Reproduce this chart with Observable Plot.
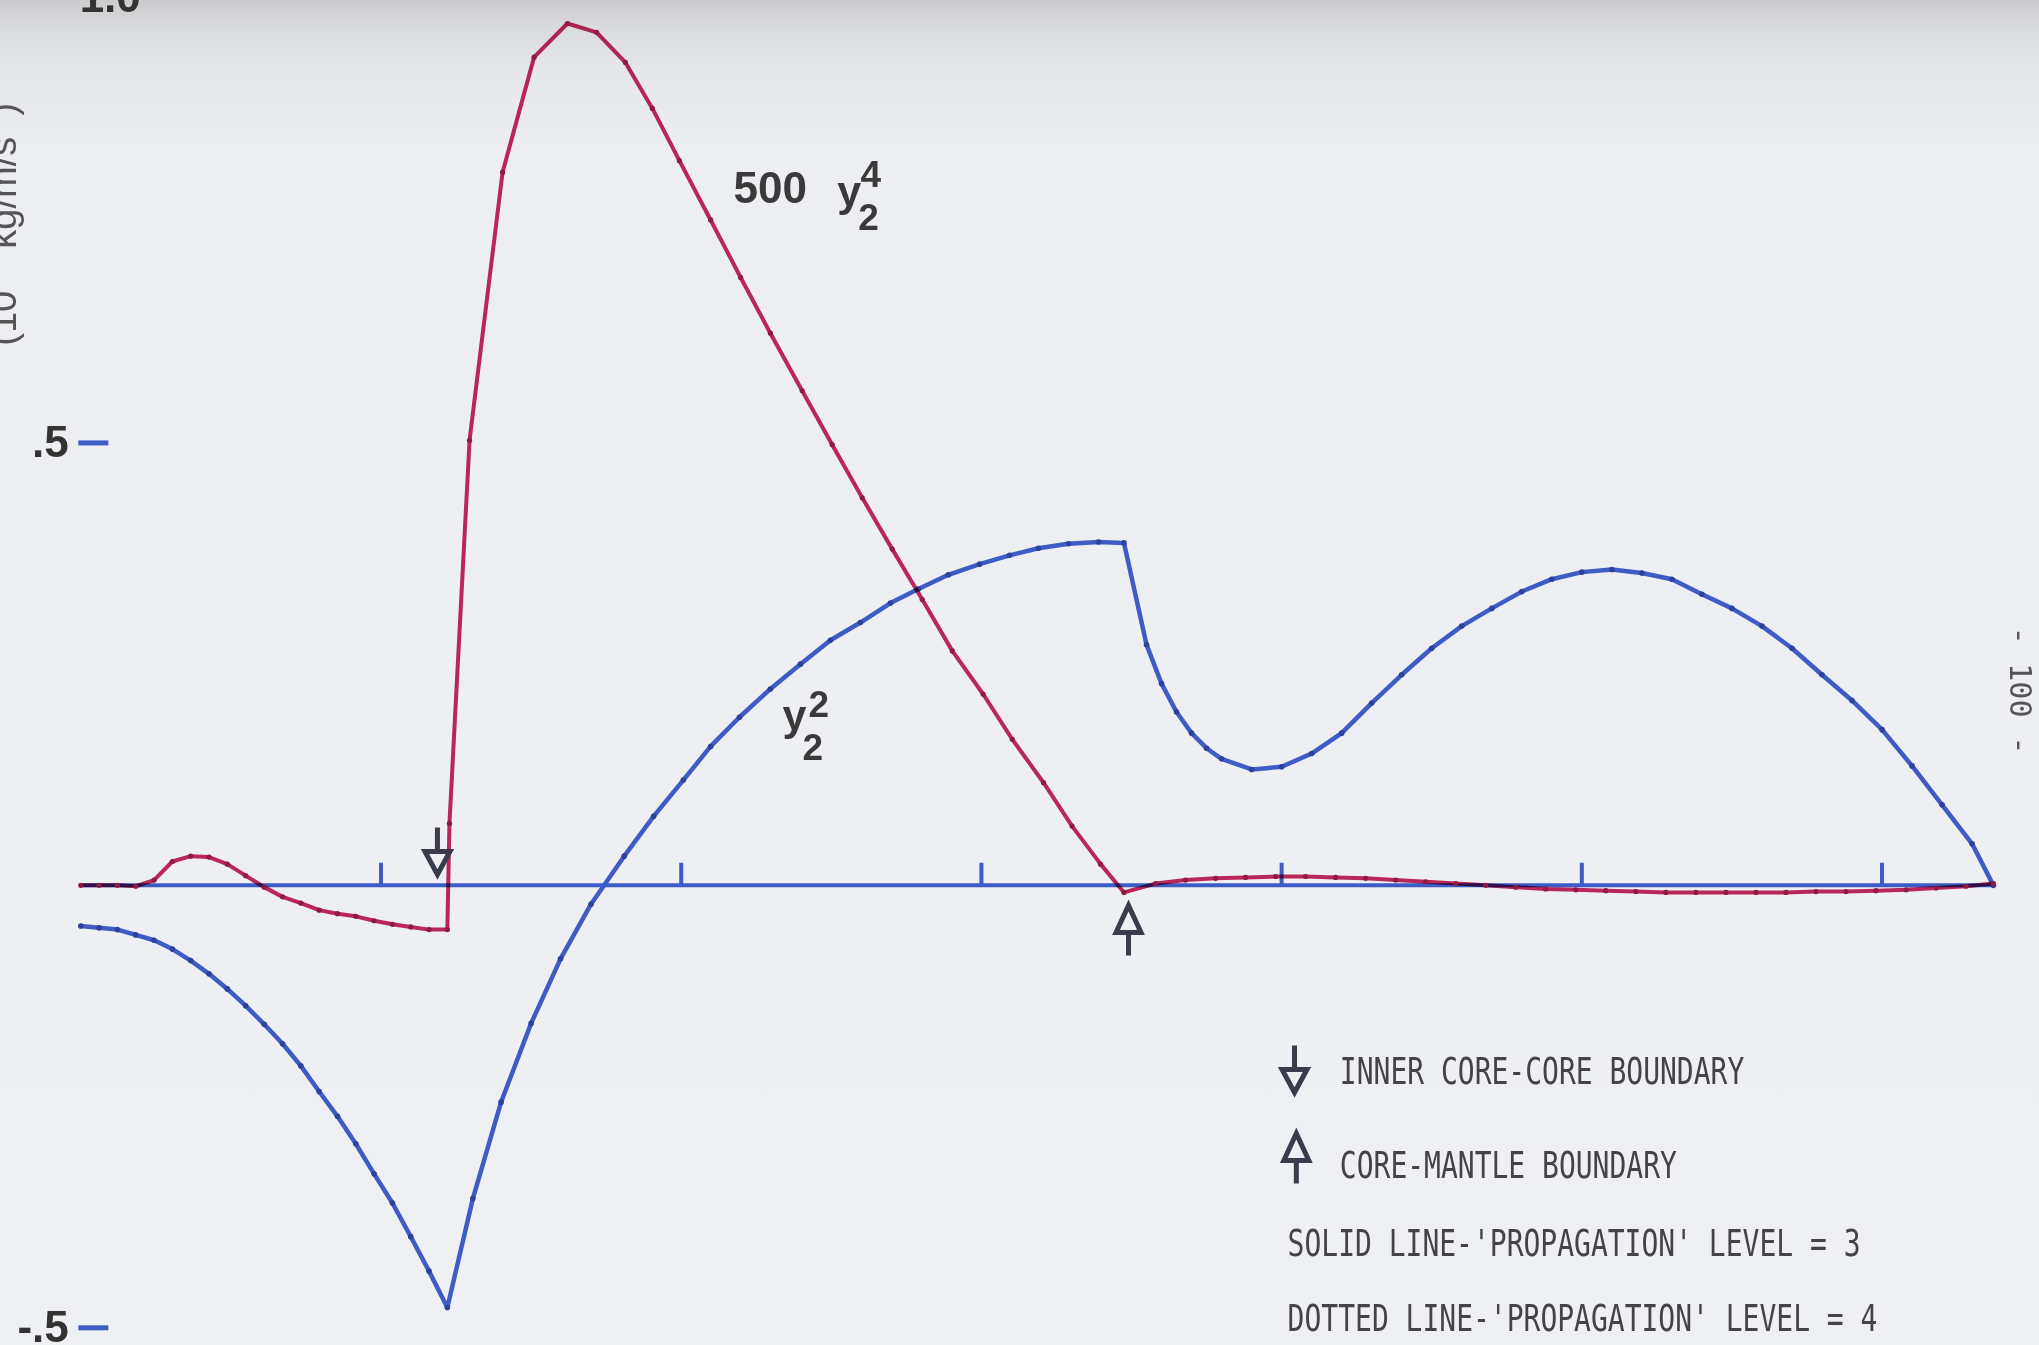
<!DOCTYPE html>
<html>
<head>
<meta charset="utf-8">
<script src="https://cdn.jsdelivr.net/npm/d3@7"></script>
<script src="https://cdn.jsdelivr.net/npm/@observablehq/plot@0.6"></script>
<style>
  html, body { margin: 0; padding: 0; }
  body {
    width: 2039px; height: 1345px; overflow: hidden;
    background: linear-gradient(#cbcbcd 0px, #dadbde 28px, #e6e7eb 70px, #eceef2 150px, #eef0f4 100%);
  }
  #chart svg { display: block; }
</style>
</head>
<body>
<div id="chart"></div>
<script>
// ---- data ----
// radius (km) and y2^2 (blue curve)
const blueRadiusKm = [0,61,122,183,244,305,366,427,488,549,611,672,733,794,855,916,977,1038,1099,1160,1221,
  1306,1400,1500,1598,1700,1810,1908,2007,2098,2194,2297,2397,2497,2597,2697,2790,2890,2994,3094,3190,3290,3390,3475,
  3550,3600,3650,3700,3750,3800,3900,4000,4100,4200,4300,4400,4500,4600,4700,4800,
  4900,5000,5100,5200,5300,5400,5500,5600,5700,5800,5900,6000,6100,6200,6300,6371];
const y22Values = [-0.046,-0.048,-0.050,-0.056,-0.062,-0.072,-0.085,-0.100,-0.117,-0.136,-0.157,-0.179,-0.204,-0.233,-0.261,-0.292,-0.326,-0.359,-0.397,-0.436,-0.477,
  -0.354,-0.245,-0.156,-0.083,-0.021,0.033,0.078,0.119,0.157,0.190,0.222,0.250,0.277,0.297,0.319,0.335,0.351,0.363,0.373,0.381,0.386,0.388,0.387,
  0.272,0.228,0.196,0.172,0.155,0.143,0.131,0.134,0.149,0.172,0.206,0.238,0.268,0.293,0.313,0.332,
  0.346,0.354,0.357,0.353,0.346,0.329,0.313,0.293,0.268,0.238,0.209,0.176,0.135,0.091,0.047,0.000];

// radius (km) and 500*y2^4 (red curve)
const redRadiusKm = [0,61,122,183,244,305,366,427,488,549,611,672,733,794,855,916,977,1038,1099,1160,1221,
  1228,1295,1405,1510,1621,1718,1814,1904,1994,2098,2198,2297,2403,2503,2603,2703,2803,2903,3006,3103,3207,3302,3397,3475,
  3580,3680,3780,3880,3980,4080,4180,4280,4380,4480,4580,4680,4780,4880,4980,5080,5180,5280,
  5380,5480,5580,5680,5780,5880,5980,6080,6180,6280,6371];
const y24x500Values = [0,0,0,-0.001,0.006,0.027,0.033,0.032,0.024,0.011,-0.002,-0.013,-0.020,-0.028,-0.032,-0.035,-0.040,-0.044,-0.047,-0.050,-0.050,
  0.070,0.503,0.806,0.936,0.974,0.964,0.930,0.878,0.819,0.752,0.687,0.624,0.559,0.498,0.438,0.380,0.323,0.265,0.216,0.165,0.116,0.067,0.024,-0.008,
  0.002,0.006,0.008,0.009,0.010,0.010,0.009,0.008,0.006,0.004,0.002,0.000,-0.002,-0.004,-0.005,-0.006,-0.007,-0.008,
  -0.008,-0.008,-0.008,-0.008,-0.007,-0.007,-0.006,-0.005,-0.003,-0.001,0.002];

const radialTicksKm = [1000, 2000, 3000, 4000, 5000, 6000];
const yTickValues = [0.5, -0.5];
const yTickLabels = [".5", "-.5"];
const topTickLabel = "1.0";
const yAxisTitle = "(10\u00A0\u00A0\u00A0\u00A0kg/m/s\u00A0\u00A0)";
const pageNumber = "- 100 -";
const legendLines = [
  "INNER CORE-CORE BOUNDARY",
  "CORE-MANTLE BOUNDARY",
  "SOLID LINE-'PROPAGATION' LEVEL = 3",
  "DOTTED LINE-'PROPAGATION' LEVEL = 4"
];

// ---- styling ----
const BLUE = "#3d5cc6";
const BLUE_DOT = "#2c429c";
const RED = "#c8285c";
const RED_DOT = "#8f1a42";
const INK = "#3a3a3a";
const ARROW_INK = "#3b3b4c";

const blue = blueRadiusKm.map((r, i) => ({r, v: y22Values[i]}));
const red = redRadiusKm.map((r, i) => ({r, v: y24x500Values[i]}));

// arrow glyphs (drawn as custom dot symbols)
const downArrow = {draw(c) {
  c.moveTo(0, 0); c.lineTo(0, 24);
  c.moveTo(-12.5, 24); c.lineTo(12.5, 24); c.lineTo(0, 47); c.closePath();
}};
const upArrow = {draw(c) {
  c.moveTo(0, 0); c.lineTo(0, -23);
  c.moveTo(-12.5, -23); c.lineTo(12.5, -23); c.lineTo(0, -50); c.closePath();
}};

const sansBold = {fontFamily: "Liberation Sans, Arial, sans-serif", fontWeight: "bold", fill: INK};

const chart = Plot.plot({
  width: 2039,
  height: 1345,
  marginTop: 0, marginBottom: 0, marginLeft: 0, marginRight: 0,
  style: {background: "none", overflow: "visible"},
  x: {domain: [0, 6371], range: [80.3, 1992.9], axis: null},
  y: {domain: [-0.52, 1.0], range: [1345, 0], axis: null},
  marks: [
    // y tick dashes and labels
    Plot.ruleY(yTickValues, {x1: 0, x2: 100, dx: -2, stroke: BLUE, strokeWidth: 5}),
    Plot.text(yTickValues, {x: 0, y: d => d, text: (d, i) => yTickLabels[i], textAnchor: "end",
      lineAnchor: "middle", dx: -12, fontSize: 44, ...sansBold, fill: "#333"}),
    Plot.text([1.0], {x: 0, y: d => d, text: [topTickLabel], textAnchor: "end", lineAnchor: "bottom",
      dx: 60, dy: 11, fontSize: 44, ...sansBold, fill: "#333"}),
    Plot.text([0.747], {x: 0, y: d => d, text: [yAxisTitle], rotate: -90, textAnchor: "middle",
      lineAnchor: "bottom", dx: -65, fontSize: 38, fontFamily: "Liberation Sans, Arial, sans-serif", fill: "#555"}),
    // radial axis
    Plot.ruleY([0], {x1: 0, x2: 6371, stroke: BLUE, strokeWidth: 4}),
    Plot.ruleX(radialTicksKm, {x: d => d, y1: 0, y2: 0.025, stroke: BLUE, strokeWidth: 4}),
    // y2^2
    Plot.line(blue, {x: "r", y: "v", stroke: BLUE, strokeWidth: 4.5, strokeLinejoin: "round"}),
    Plot.dot(blue, {x: "r", y: "v", r: 2.8, fill: BLUE_DOT}),
    // 500 y2^4
    Plot.line(red, {x: "r", y: "v", stroke: RED, strokeWidth: 4, strokeLinejoin: "round", mixBlendMode: "multiply"}),
    Plot.dot(red, {x: "r", y: "v", r: 2.6, fill: RED_DOT}),
    // boundary arrows on the chart
    Plot.dot([1188], {x: d => d, y: 0.0654, symbol: downArrow, r: 10, fill: "none", stroke: ARROW_INK, strokeWidth: 5}),
    Plot.dot([3490], {x: d => d, y: -0.0792, symbol: upArrow, r: 10, fill: "none", stroke: ARROW_INK, strokeWidth: 5}),
    // curve labels
    Plot.text(["500"], {x: 2174, y: 0.7706, text: d => d, textAnchor: "start", lineAnchor: "bottom", fontSize: 44, ...sansBold}),
    Plot.text(["y"], {x: 2520, y: 0.7683, text: d => d, textAnchor: "start", lineAnchor: "bottom", fontSize: 43, ...sansBold}),
    Plot.text(["4"], {x: 2597, y: 0.7887, text: d => d, textAnchor: "start", lineAnchor: "bottom", fontSize: 37, ...sansBold}),
    Plot.text(["2"], {x: 2590, y: 0.7401, text: d => d, textAnchor: "start", lineAnchor: "bottom", fontSize: 37, ...sansBold}),
    Plot.text(["y"], {x: 2337, y: 0.1751, text: d => d, textAnchor: "start", lineAnchor: "bottom", fontSize: 43, ...sansBold}),
    Plot.text(["2"], {x: 2424, y: 0.1898, text: d => d, textAnchor: "start", lineAnchor: "bottom", fontSize: 37, ...sansBold}),
    Plot.text(["2"], {x: 2404, y: 0.1412, text: d => d, textAnchor: "start", lineAnchor: "bottom", fontSize: 37, ...sansBold}),
    // legend
    Plot.dot([4043], {x: d => d, y: -0.1810, symbol: downArrow, r: 10, fill: "none", stroke: ARROW_INK, strokeWidth: 5}),
    Plot.dot([4049], {x: d => d, y: -0.3369, symbol: upArrow, r: 10, fill: "none", stroke: ARROW_INK, strokeWidth: 5}),
    Plot.text(legendLines, {x: [4194, 4194, 4020, 4020], y: [-0.2244, -0.3307, -0.4188, -0.5036], text: d => d,
      textAnchor: "start", lineAnchor: "bottom", fontSize: 37, fontFamily: "DejaVu Sans Mono, monospace", fill: "#444"}),
    // page number
    Plot.text([pageNumber], {x: 6371, y: 0.2203, text: d => d, rotate: 90, textAnchor: "middle", lineAnchor: "bottom",
      dx: 17, fontSize: 31, fontFamily: "DejaVu Sans Mono, monospace", fill: "#555"})
  ]
});

// condense the line-printer style texts
chart.querySelectorAll("text").forEach(t => {
  const s = t.textContent;
  if (legendLines.includes(s)) {
    t.setAttribute("textLength", (s.length * 16.85).toFixed(1));
    t.setAttribute("lengthAdjust", "spacingAndGlyphs");
  } else if (s === pageNumber) {
    t.setAttribute("textLength", "128");
    t.setAttribute("lengthAdjust", "spacingAndGlyphs");
  }
});

document.getElementById("chart").appendChild(chart);
</script>
</body>
</html>
